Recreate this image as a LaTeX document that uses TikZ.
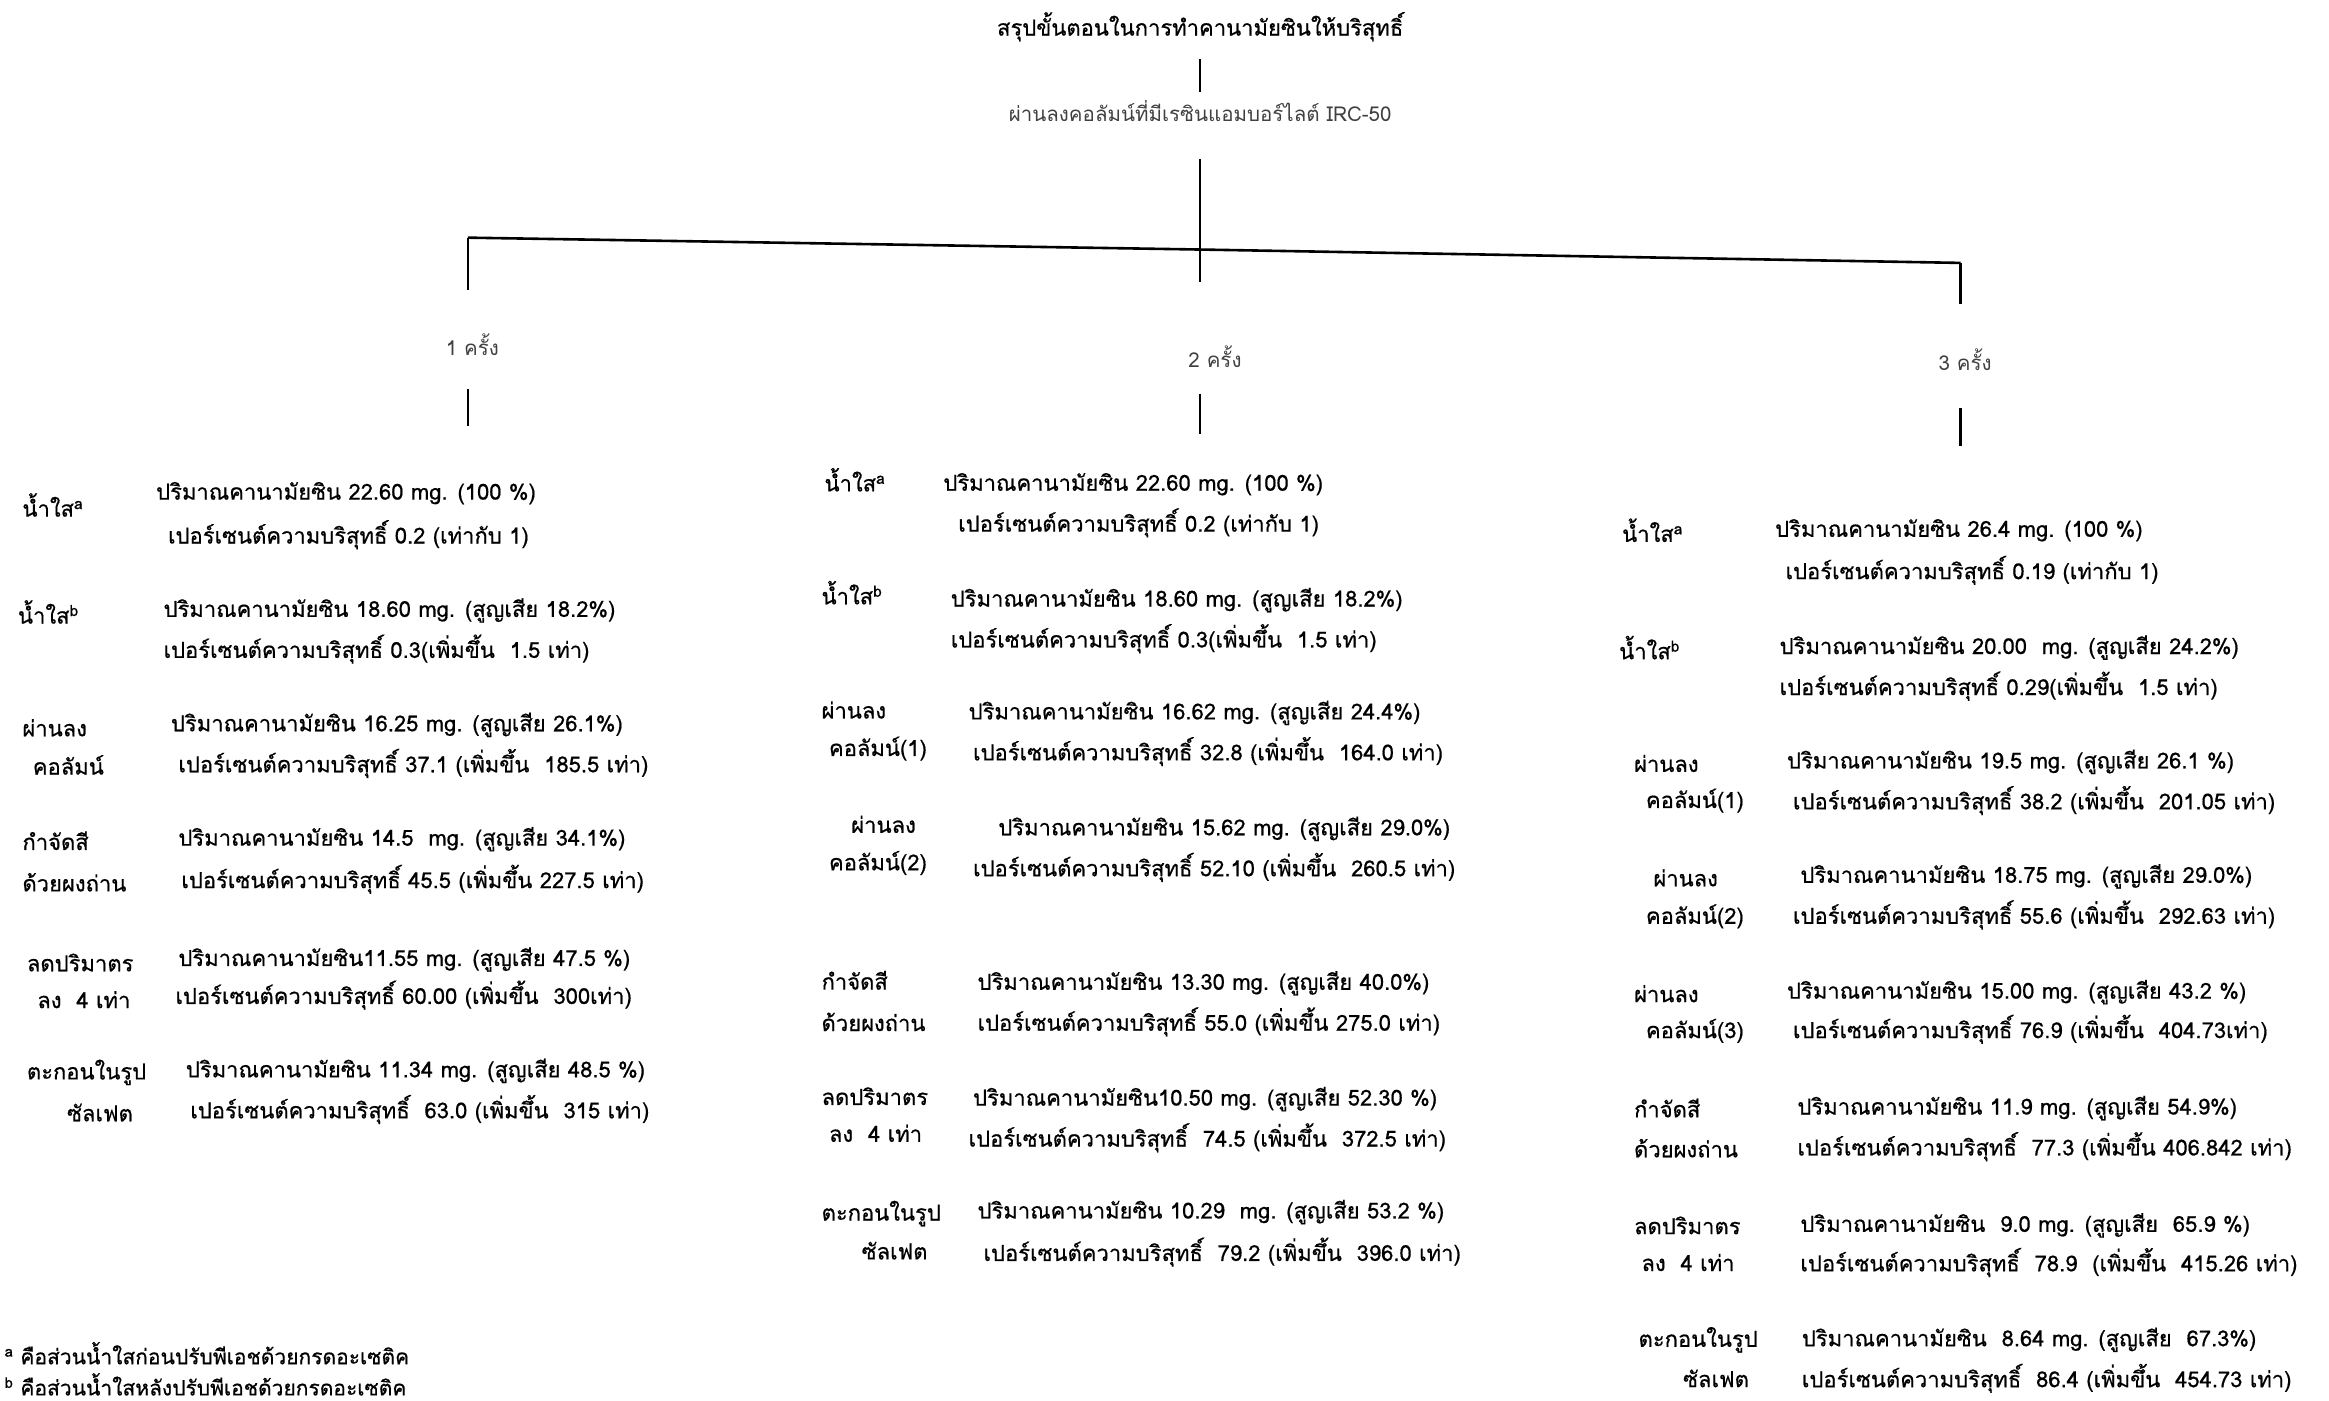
\documentclass[tikz,border=0pt]{standalone}
\usepackage{fontspec}
\setmainfont[Script=Thai,FakeBold=0.6]{Loma}
\newfontfamily\thinfont[Script=Thai]{Loma}
\begin{document}
\begin{tikzpicture}[x=1.4853pt,y=-1.4853pt,
  txt/.style={anchor=west,inner sep=0pt,font=\fontsize{22}{24}\selectfont},
  thin/.style={inner sep=0pt,font=\thinfont\fontsize{20.5}{22}\selectfont,text=black!75},
  conn/.style={line width=2.6pt},
  foot/.style={anchor=west,inner sep=0pt,font=\fontsize{21}{23}\selectfont}]
\useasboundingbox (0,0) rectangle (1568,943);
% header
\node[txt,anchor=center] (title) at (808,18) {สรุปขั้นตอนในการทำคานามัยซินให้บริสุทธิ์};
\node[thin] (sub) at (808,75) {ผ่านลงคอลัมน์ที่มีเรซินแอมบอร์ไลต์ IRC-50};
\coordinate (t1) at (808,40); \coordinate (t2) at (808,62);
\draw[conn] (t1) -- (t2);
\coordinate (s1) at (808,107);
\coordinate (hl) at (315,160); \coordinate (hm) at (808,168); \coordinate (hr) at (1320,177);
\coordinate (mdown) at (808,190);
\draw[conn] (s1) -- (mdown);
\draw[conn] (hl) -- (hm) -- (hr);
\coordinate (lv) at (315,195); \coordinate (rv) at (1320,205);
\draw[conn] (hl) -- (lv);
\draw[conn] (hr) -- (rv);
\node[thin] (k1) at (318,232) {1 ครั้ง};
\node[thin] (k2) at (818,240) {2 ครั้ง};
\node[thin] (k3) at (1323,242) {3 ครั้ง};
\coordinate (l1) at (315,262); \coordinate (l2) at (315,287);
\coordinate (m1) at (808,265); \coordinate (m2) at (808,292);
\coordinate (r1) at (1320,275); \coordinate (r2) at (1320,300);
\draw[conn] (l1) -- (l2);
\draw[conn] (m1) -- (m2);
\draw[conn] (r1) -- (r2);
% left column
\node[txt] (lA) at (15,340) {น้ำใส\textsuperscript{a}};
\node[txt] (lA1) at (105,332) {ปริมาณคานามัยซิน 22.60 mg. (100 \%)};
\node[txt] (lA2) at (113,360) {เปอร์เซนต์ความบริสุทธิ์ 0.2 (เท่ากับ 1)};
\node[txt] (lB) at (12,412) {น้ำใส\textsuperscript{b}};
\node[txt] (lB1) at (110,411) {ปริมาณคานามัยซิน 18.60 mg. (สูญเสีย 18.2\%)};
\node[txt] (lB2) at (110,437) {เปอร์เซนต์ความบริสุทธิ์ 0.3(เพิ่มขึ้น\ \ 1.5 เท่า)};
\node[txt] (lC) at (15,490) {ผ่านลง};
\node[txt] (lCb) at (22,515) {คอลัมน์};
\node[txt] (lC1) at (115,488) {ปริมาณคานามัยซิน 16.25 mg. (สูญเสีย 26.1\%)};
\node[txt] (lC2) at (120,514) {เปอร์เซนต์ความบริสุทธิ์ 37.1 (เพิ่มขึ้น\ \ 185.5 เท่า)};
\node[txt] (lD) at (15,566) {กำจัดสี};
\node[txt] (lDb) at (15,594) {ด้วยผงถ่าน};
\node[txt] (lD1) at (120,565) {ปริมาณคานามัยซิน 14.5\ \ mg. (สูญเสีย 34.1\%)};
\node[txt] (lD2) at (122,592) {เปอร์เซนต์ความบริสุทธิ์ 45.5 (เพิ่มขึ้น 227.5 เท่า)};
\node[txt] (lE) at (18,648) {ลดปริมาตร};
\node[txt] (lEb) at (25,673) {ลง\ \ 4 เท่า};
\node[txt] (lE1) at (120,646) {ปริมาณคานามัยซิน11.55 mg. (สูญเสีย 47.5 \%)};
\node[txt] (lE2) at (118,670) {เปอร์เซนต์ความบริสุทธิ์ 60.00 (เพิ่มขึ้น\ \ 300เท่า)};
\node[txt] (lF) at (18,722) {ตะกอนในรูป};
\node[txt] (lFb) at (45,749) {ซัลเฟต};
\node[txt] (lF1) at (125,721) {ปริมาณคานามัยซิน 11.34 mg. (สูญเสีย 48.5 \%)};
\node[txt] (lF2) at (128,747) {เปอร์เซนต์ความบริสุทธิ์\ \ 63.0 (เพิ่มขึ้น\ \ 315 เท่า)};
% middle column
\node[txt] (mA) at (555,323) {น้ำใส\textsuperscript{a}};
\node[txt] (mA1) at (635,326) {ปริมาณคานามัยซิน 22.60 mg. (100 \%)};
\node[txt] (mA2) at (645,352) {เปอร์เซนต์ความบริสุทธิ์ 0.2 (เท่ากับ 1)};
\node[txt] (mB) at (553,399) {น้ำใส\textsuperscript{b}};
\node[txt] (mB1) at (640,404) {ปริมาณคานามัยซิน 18.60 mg. (สูญเสีย 18.2\%)};
\node[txt] (mB2) at (640,430) {เปอร์เซนต์ความบริสุทธิ์ 0.3(เพิ่มขึ้น\ \ 1.5 เท่า)};
\node[txt] (mC) at (553,478) {ผ่านลง};
\node[txt] (mCb) at (558,504) {คอลัมน์(1)};
\node[txt] (mC1) at (652,480) {ปริมาณคานามัยซิน 16.62 mg. (สูญเสีย 24.4\%)};
\node[txt] (mC2) at (655,506) {เปอร์เซนต์ความบริสุทธิ์ 32.8 (เพิ่มขึ้น\ \ 164.0 เท่า)};
\node[txt] (mD) at (573,555) {ผ่านลง};
\node[txt] (mDb) at (558,581) {คอลัมน์(2)};
\node[txt] (mD1) at (672,558) {ปริมาณคานามัยซิน 15.62 mg. (สูญเสีย 29.0\%)};
\node[txt] (mD2) at (655,584) {เปอร์เซนต์ความบริสุทธิ์ 52.10 (เพิ่มขึ้น\ \ 260.5 เท่า)};
\node[txt] (mE) at (553,660) {กำจัดสี};
\node[txt] (mEb) at (553,688) {ด้วยผงถ่าน};
\node[txt] (mE1) at (658,662) {ปริมาณคานามัยซิน 13.30 mg. (สูญเสีย 40.0\%)};
\node[txt] (mE2) at (658,688) {เปอร์เซนต์ความบริสุทธิ์ 55.0 (เพิ่มขึ้น 275.0 เท่า)};
\node[txt] (mF) at (553,738) {ลดปริมาตร};
\node[txt] (mFb) at (558,763) {ลง\ \ 4 เท่า};
\node[txt] (mF1) at (655,740) {ปริมาณคานามัยซิน10.50 mg. (สูญเสีย 52.30 \%)};
\node[txt] (mF2) at (652,766) {เปอร์เซนต์ความบริสุทธิ์\ \ 74.5 (เพิ่มขึ้น\ \ 372.5 เท่า)};
\node[txt] (mG) at (553,817) {ตะกอนในรูป};
\node[txt] (mGb) at (580,842) {ซัลเฟต};
\node[txt] (mG1) at (658,816) {ปริมาณคานามัยซิน 10.29\ \ mg. (สูญเสีย 53.2 \%)};
\node[txt] (mG2) at (662,843) {เปอร์เซนต์ความบริสุทธิ์\ \ 79.2 (เพิ่มขึ้น\ \ 396.0 เท่า)};
% right column
\node[txt] (rA) at (1092,357) {น้ำใส\textsuperscript{a}};
\node[txt] (rA1) at (1195,357) {ปริมาณคานามัยซิน 26.4 mg. (100 \%)};
\node[txt] (rA2) at (1202,384) {เปอร์เซนต์ความบริสุทธิ์ 0.19 (เท่ากับ 1)};
\node[txt] (rB) at (1090,436) {น้ำใส\textsuperscript{b}};
\node[txt] (rB1) at (1198,436) {ปริมาณคานามัยซิน 20.00\ \ mg. (สูญเสีย 24.2\%)};
\node[txt] (rB2) at (1198,462) {เปอร์เซนต์ความบริสุทธิ์ 0.29(เพิ่มขึ้น\ \ 1.5 เท่า)};
\node[txt] (rC) at (1100,514) {ผ่านลง};
\node[txt] (rCb) at (1108,539) {คอลัมน์(1)};
\node[txt] (rC1) at (1203,513) {ปริมาณคานามัยซิน 19.5 mg. (สูญเสีย 26.1 \%)};
\node[txt] (rC2) at (1207,539) {เปอร์เซนต์ความบริสุทธิ์ 38.2 (เพิ่มขึ้น\ \ 201.05 เท่า)};
\node[txt] (rD) at (1113,591) {ผ่านลง};
\node[txt] (rDb) at (1108,617) {คอลัมน์(2)};
\node[txt] (rD1) at (1212,590) {ปริมาณคานามัยซิน 18.75 mg. (สูญเสีย 29.0\%)};
\node[txt] (rD2) at (1207,616) {เปอร์เซนต์ความบริสุทธิ์ 55.6 (เพิ่มขึ้น\ \ 292.63 เท่า)};
\node[txt] (rE) at (1100,669) {ผ่านลง};
\node[txt] (rEb) at (1108,694) {คอลัมน์(3)};
\node[txt] (rE1) at (1203,668) {ปริมาณคานามัยซิน 15.00 mg. (สูญเสีย 43.2 \%)};
\node[txt] (rE2) at (1207,693) {เปอร์เซนต์ความบริสุทธิ์ 76.9 (เพิ่มขึ้น\ \ 404.73เท่า)};
\node[txt] (rF) at (1100,746) {กำจัดสี};
\node[txt] (rFb) at (1100,773) {ด้วยผงถ่าน};
\node[txt] (rF1) at (1210,746) {ปริมาณคานามัยซิน 11.9 mg. (สูญเสีย 54.9\%)};
\node[txt] (rF2) at (1210,772) {เปอร์เซนต์ความบริสุทธิ์\ \ 77.3 (เพิ่มขึ้น 406.842 เท่า)};
\node[txt] (rG) at (1100,825) {ลดปริมาตร};
\node[txt] (rGb) at (1105,850) {ลง\ \ 4 เท่า};
\node[txt] (rG1) at (1212,825) {ปริมาณคานามัยซิน\ \ 9.0 mg. (สูญเสีย\ \ 65.9 \%)};
\node[txt] (rG2) at (1212,850) {เปอร์เซนต์ความบริสุทธิ์\ \ 78.9\ \ (เพิ่มขึ้น\ \ 415.26 เท่า)};
\node[txt] (rH) at (1103,902) {ตะกอนในรูป};
\node[txt] (rHb) at (1133,928) {ซัลเฟต};
\node[txt] (rH1) at (1213,902) {ปริมาณคานามัยซิน\ \ 8.64 mg. (สูญเสีย\ \ 67.3\%)};
\node[txt] (rH2) at (1213,928) {เปอร์เซนต์ความบริสุทธิ์\ \ 86.4 (เพิ่มขึ้น\ \ 454.73 เท่า)};
% footnotes
\node[foot] (fa) at (3,911) {\textsuperscript{a} คือส่วนน้ำใสก่อนปรับพีเอชด้วยกรดอะเซติค};
\node[foot] (fb) at (3,932) {\textsuperscript{b} คือส่วนน้ำใสหลังปรับพีเอชด้วยกรดอะเซติค};
\end{tikzpicture}
\end{document}
